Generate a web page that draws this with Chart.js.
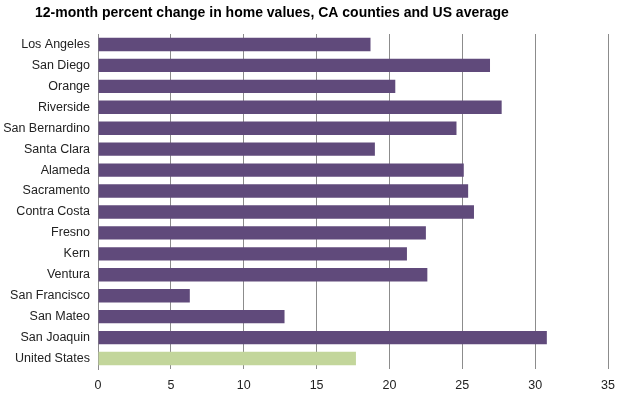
<!DOCTYPE html>
<html>
<head>
<meta charset="utf-8">
<script src="https://cdn.jsdelivr.net/npm/chart.js@4"></script>
<style>
  html, body { margin: 0; padding: 0; background: #fff; }
  #wrap { position: relative; width: 624px; height: 398px; }
</style>
</head>
<body>
<div id="wrap"><canvas id="homeChart" width="624" height="398"></canvas></div>
<script>
// 資料
const counties = ['Los Angeles', 'San Diego', 'Orange', 'Riverside', 'San Bernardino', 'Santa Clara',
    'Alameda', 'Sacramento', 'Contra Costa', 'Fresno', 'Kern', 'Ventura',
    'San Francisco', 'San Mateo', 'San Joaquin', 'United States'];
const pctChange = [18.7, 26.9, 20.4, 27.7, 24.6, 19.0,
    25.1, 25.4, 25.8, 22.5, 21.2, 22.6,
    6.3, 12.8, 30.8, 17.7];
const xTicks = [0, 5, 10, 15, 20, 25, 30, 35];

const titleText = '12-month percent change in home values, CA counties and US average';

// 美國平均用綠色，其他縣用紫色
const barColors = counties.map(c => c === 'United States' ? '#c3d69b' : '#604a7b');

const labelFont = '"Liberation Sans", Arial, sans-serif';

// 標題直接畫在左上角
const titlePlugin = {
    id: 'leftTitle',
    afterDraw(chart) {
        const c = chart.ctx;
        c.save();
        c.font = 'bold 14px "Liberation Sans", Arial, sans-serif';
        c.fillStyle = '#000';
        c.textBaseline = 'middle';
        c.fillText(titleText, 35, 13);
        c.restore();
    }
};

const ctx = document.getElementById('homeChart').getContext('2d');

new Chart(ctx, {
    type: 'bar',
    data: {
        labels: counties,
        datasets: [{
            data: pctChange,
            backgroundColor: barColors,
            borderWidth: 0,
            categoryPercentage: 1,
            barPercentage: 0.64
        }]
    },
    options: {
        indexAxis: 'y',
        responsive: false,
        animation: false,
        layout: { padding: { top: 34, right: 12, bottom: 0, left: 0 } },
        plugins: {
            legend: { display: false },
            title: { display: false },
            tooltip: { enabled: false }
        },
        scales: {
            x: {
                min: 0,
                max: 35,
                afterBuildTicks: s => { s.ticks = xTicks.map(v => ({ value: v })); },
                afterFit: s => { s.height = 29; },
                grid: { color: '#8c8c8c', lineWidth: 1, drawTicks: false },
                border: { display: false },
                ticks: { padding: 9, color: '#222', font: { family: labelFont, size: 12.5 } }
            },
            y: {
                afterFit: s => { s.width = 98; },
                grid: { display: false, drawTicks: false },
                border: { display: true, color: '#8c8c8c', width: 1 },
                ticks: { padding: 8, color: '#222', autoSkip: false, font: { family: labelFont, size: 12.5 } }
            }
        }
    },
    plugins: [titlePlugin]
});
</script>
</body>
</html>
